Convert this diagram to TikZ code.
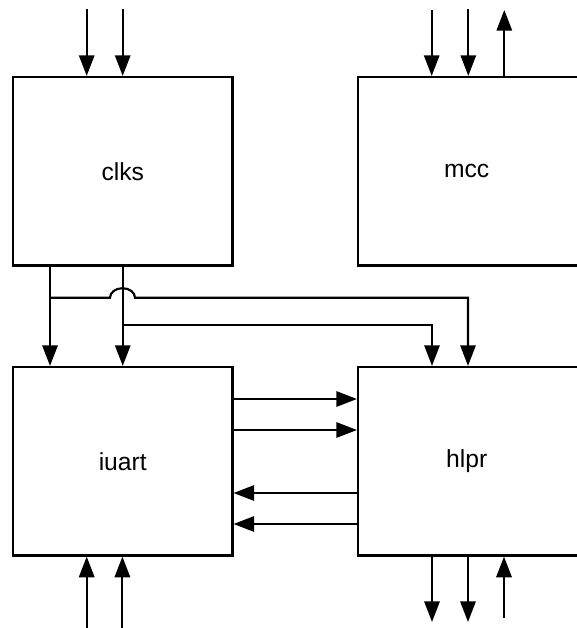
\documentclass[tikz,border=0pt]{standalone}
\usepackage{fontspec}
\setmainfont{Liberation Sans}
\usetikzlibrary{arrows.meta}
\tikzset{every picture/.style={line width=1.6pt}}
\tikzset{
  block/.style={draw, rectangle, inner sep=0pt, minimum width=164.6pt, minimum height=141.4pt, font=\fontsize{18.5}{22}\selectfont},
  wideblock/.style={block, minimum width=168pt},
  sig/.style={-{Triangle[length=15.5pt,width=11.5pt]}}
}

\begin{document}
\begin{tikzpicture}[x=0.75pt,y=0.75pt,yscale=-1,xscale=1]
\useasboundingbox (0,0) rectangle (576,628);

%Shape: Rectangle [clks]
\node [block] (clks) at (122.75,171.25) {clks};
%Shape: Rectangle [mcc]
\node [wideblock] (mcc) at (470,171.25) {\hspace*{-5pt}mcc};
%Shape: Rectangle [iuart]
\node [block] (iuart) at (122.75,461.25) {iuart};
%Shape: Rectangle [hlpr]
\node [wideblock] (hlpr) at (470,461.25) {\hspace*{-5pt}hlpr};

%Free ends
\coordinate (ckin1) at (86.7,9);
\coordinate (ckin2) at (122.7,9);
\coordinate (mcin1) at (431.7,10);
\coordinate (mcin2) at (468.3,9);
\coordinate (mcout) at (504.3,10);
\coordinate (uain1) at (86.7,628);
\coordinate (uain2) at (122.4,628);
\coordinate (hpout1) at (432,622);
\coordinate (hpout2) at (468,622);
\coordinate (hpin) at (504,618);

%Straight Lines [clks inputs]
\draw [sig] (ckin1) -- (ckin1 |- clks.north);
\draw [sig] (ckin2) -- (ckin2 |- clks.north);
%Straight Lines [mcc inputs and output]
\draw [sig] (mcin1) -- (mcin1 |- mcc.north);
\draw [sig] (mcin2) -- (mcin2 |- mcc.north);
\draw [sig] (mcout |- mcc.north) -- (mcout);

%Straight Lines [clks to iuart]
\draw [sig] ([xshift=-54.55pt]clks.south) coordinate (ck1) -- (ck1 |- iuart.north);
\draw [sig] (clks.south) coordinate (ck2) -- (ck2 |- iuart.north);

%Curve Lines [clks to hlpr, with hop]
\coordinate (j1) at (50,297.7);
\draw [sig] (j1) -- (110,297.7) arc [start angle=180, end angle=360, x radius=12.5, y radius=9.5] -- (468,297.7) coordinate (t1) -- (t1 |- hlpr.north);
%Straight Lines [clks to hlpr]
\coordinate (j2) at (122.75,325);
\draw [sig] (j2) -- (432,325) coordinate (t2) -- (t2 |- hlpr.north);

%Straight Lines [iuart to hlpr]
\draw [sig] (iuart.east |- 0,399) -- (hlpr.west |- 0,399);
\draw [sig] (iuart.east |- 0,430) -- (hlpr.west |- 0,430);
%Straight Lines [hlpr to iuart]
\draw [sig] (hlpr.west |- 0,493) -- (iuart.east |- 0,493);
\draw [sig] (hlpr.west |- 0,524) -- (iuart.east |- 0,524);

%Straight Lines [iuart inputs]
\draw [sig] (uain1) -- (uain1 |- iuart.south);
\draw [sig] (uain2) -- (uain2 |- iuart.south);
%Straight Lines [hlpr outputs and input]
\draw [sig] (hpout1 |- hlpr.south) -- (hpout1);
\draw [sig] (hpout2 |- hlpr.south) -- (hpout2);
\draw [sig] (hpin) -- (hpin |- hlpr.south);
\end{tikzpicture}
\end{document}
